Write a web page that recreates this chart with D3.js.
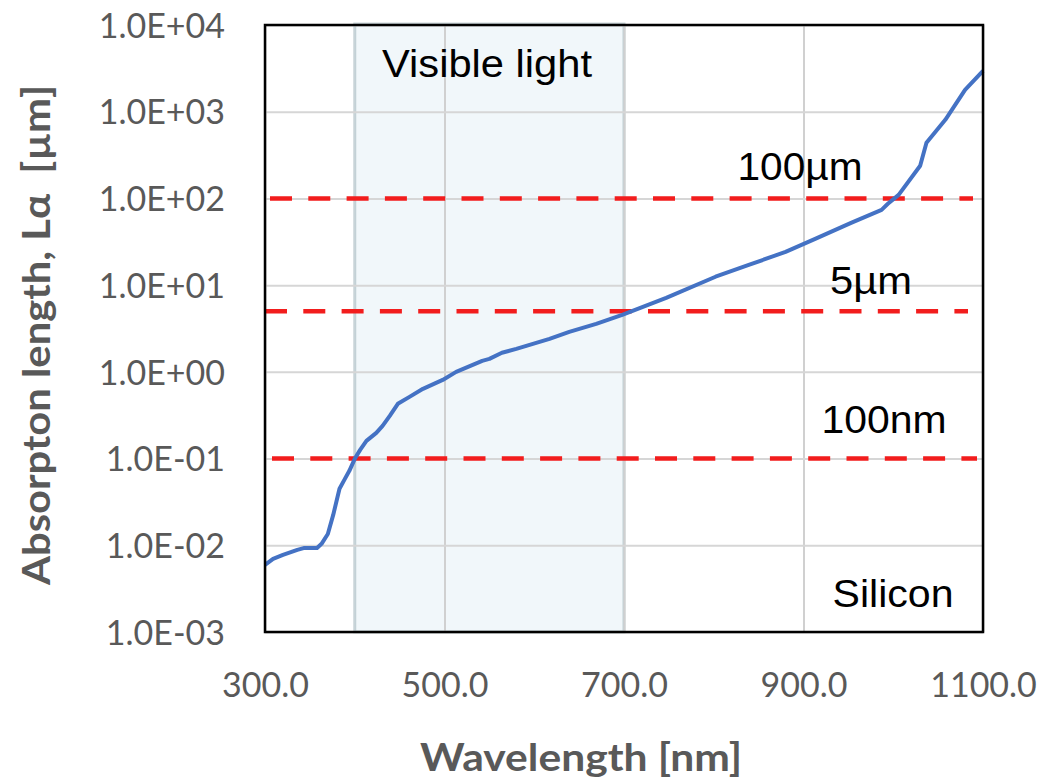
<!DOCTYPE html>
<html>
<head>
<meta charset="utf-8">
<script src="https://cdn.jsdelivr.net/npm/d3@7/dist/d3.min.js"></script>
<style>
  html, body { margin: 0; padding: 0; background: #ffffff; }
  svg { display: block; }
</style>
</head>
<body>
<svg id="chart" width="1054" height="782"></svg>
<script>
// Absorption length of silicon vs. wavelength
const wavelengths = [300, 309, 320, 336, 344, 358, 363, 370, 376, 383, 389, 394, 400, 406, 413, 424, 431, 439, 448, 461, 476, 498, 513, 542, 550, 564, 580, 617, 639, 669, 698, 747, 802, 839, 880, 913, 953, 987, 994, 1006, 1030, 1037, 1058, 1080, 1100];
const absorptionLength = [0.00594, 0.00697, 0.00775, 0.00885, 0.00933, 0.00933, 0.0104, 0.0135, 0.0224, 0.0448, 0.0584, 0.0722, 0.0993, 0.126, 0.160, 0.198, 0.238, 0.311, 0.428, 0.515, 0.637, 0.807, 1.0, 1.34, 1.41, 1.66, 1.84, 2.40, 2.89, 3.57, 4.54, 7.13, 12.5, 17.1, 24.2, 34.2, 52.3, 73.8, 86.7, 110, 238, 438, 806, 1786, 2960];

const xTickValues = [300, 500, 700, 900, 1100];
const xTickLabels = ["300.0", "500.0", "700.0", "900.0", "1100.0"];
const yTickValues = [1e-3, 1e-2, 1e-1, 1e0, 1e1, 1e2, 1e3, 1e4];
const yTickLabels = ["1.0E-03", "1.0E-02", "1.0E-01", "1.0E+00", "1.0E+01", "1.0E+02", "1.0E+03", "1.0E+04"];

const visibleRange = [400, 700];
const referenceLevels = [100, 5, 0.1];
const referenceLabels = ["100µm", "5µm", "100nm"];

const svg = d3.select("#chart");
const plotLeft = 265, plotRight = 983, plotTop = 25, plotBottom = 632;

const x = d3.scaleLinear().domain([300, 1100]).range([plotLeft, plotRight]);
const y = d3.scaleLog().domain([1e-3, 1e4]).range([plotBottom, plotTop]);

const tickFont = "Lato, 'Open Sans', sans-serif";
const grey = "#595959";

// Visible light band
svg.append("rect")
  .attr("x", x(visibleRange[0]))
  .attr("y", plotTop - 1)
  .attr("width", x(visibleRange[1]) - x(visibleRange[0]))
  .attr("height", plotBottom - plotTop + 1)
  .attr("fill", "rgba(214,232,240,0.33)")
  .attr("stroke", "rgba(150,172,178,0.5)")
  .attr("stroke-width", 3);

// Gridlines
const grid = svg.append("g");
grid.append("g")
  .attr("transform", `translate(0,${plotBottom})`)
  .call(d3.axisBottom(x).tickValues(xTickValues).tickSize(-(plotBottom - plotTop)).tickFormat(""))
  .call(g => g.select(".domain").remove())
  .call(g => g.selectAll("line").attr("stroke", "#d0d0d0").attr("stroke-width", 2));
grid.append("g")
  .attr("transform", `translate(${plotLeft},0)`)
  .call(d3.axisLeft(y).tickValues(yTickValues).tickSize(-(plotRight - plotLeft)).tickFormat(""))
  .call(g => g.select(".domain").remove())
  .call(g => g.selectAll("line").attr("stroke", "#d6d6d6").attr("stroke-width", 2));

// Reference levels
svg.append("g").selectAll("line")
  .data(referenceLevels)
  .join("line")
  .attr("x1", (d, i) => plotLeft + [5, 0, 7][i])
  .attr("x2", (d, i) => plotRight - [10, 15, 6][i])
  .attr("y1", d => y(d))
  .attr("y2", d => y(d))
  .attr("stroke", "#f21d1d")
  .attr("stroke-width", 4.5)
  .attr("stroke-dasharray", "22,16.3");

// Absorption curve
const line = d3.line()
  .x((d, i) => x(wavelengths[i]))
  .y(d => y(d));
svg.append("path")
  .datum(absorptionLength)
  .attr("d", line)
  .attr("fill", "none")
  .attr("stroke", "#4472c4")
  .attr("stroke-width", 4)
  .attr("stroke-linejoin", "round");

// Plot frame
svg.append("rect")
  .attr("x", plotLeft).attr("y", plotTop)
  .attr("width", plotRight - plotLeft).attr("height", plotBottom - plotTop)
  .attr("fill", "none")
  .attr("stroke", "#000")
  .attr("stroke-width", 2.5);

// Axis tick labels
const xAxis = svg.append("g")
  .attr("transform", `translate(0,${plotBottom})`)
  .call(d3.axisBottom(x).tickValues(xTickValues).tickSize(0).tickPadding(0)
    .tickFormat((d, i) => xTickLabels[i]));
xAxis.select(".domain").remove();
xAxis.selectAll("text")
  .attr("y", 65).attr("dy", null)
  .attr("fill", grey)
  .style("font-family", tickFont)
  .style("font-size", "34px");

const yAxis = svg.append("g")
  .attr("transform", `translate(${plotLeft},0)`)
  .call(d3.axisLeft(y).tickValues(yTickValues).tickSize(0).tickPadding(0)
    .tickFormat((d, i) => yTickLabels[i]));
yAxis.select(".domain").remove();
yAxis.selectAll("text")
  .attr("x", -40).attr("dy", "0.36em")
  .attr("fill", grey)
  .style("font-family", tickFont)
  .style("font-size", "34px");

// Axis titles
svg.append("text")
  .attr("x", 581).attr("y", 771)
  .attr("text-anchor", "middle")
  .attr("textLength", 322)
  .attr("lengthAdjust", "spacingAndGlyphs")
  .attr("fill", grey)
  .style("font-family", tickFont)
  .style("font-weight", "bold")
  .style("font-size", "38px")
  .text("Wavelength [nm]");

svg.append("text")
  .attr("transform", "translate(50,335) rotate(-90)")
  .attr("text-anchor", "middle")
  .attr("textLength", 500)
  .attr("lengthAdjust", "spacingAndGlyphs")
  .attr("fill", grey)
  .style("font-family", tickFont)
  .style("font-weight", "bold")
  .style("font-size", "38px")
  .style("white-space", "pre")
  .text("Absorpton length, L\u03b1  [µm]");

// Annotations
const noteFont = "'Liberation Sans', Arial, sans-serif";
const notes = [
  { text: "Visible light", x: 487, y: 77, w: 210 },
  { text: referenceLabels[0], x: 800, y: 180, w: 125 },
  { text: referenceLabels[1], x: 871, y: 294, w: 82 },
  { text: referenceLabels[2], x: 884, y: 433, w: 125 },
  { text: "Silicon", x: 893, y: 607, w: 121 }
];
svg.append("g").selectAll("text")
  .data(notes)
  .join("text")
  .attr("x", d => d.x).attr("y", d => d.y)
  .attr("text-anchor", "middle")
  .attr("textLength", d => d.w)
  .attr("lengthAdjust", "spacingAndGlyphs")
  .attr("fill", "#000")
  .style("font-family", noteFont)
  .style("font-size", "38px")
  .text(d => d.text);
</script>
</body>
</html>
